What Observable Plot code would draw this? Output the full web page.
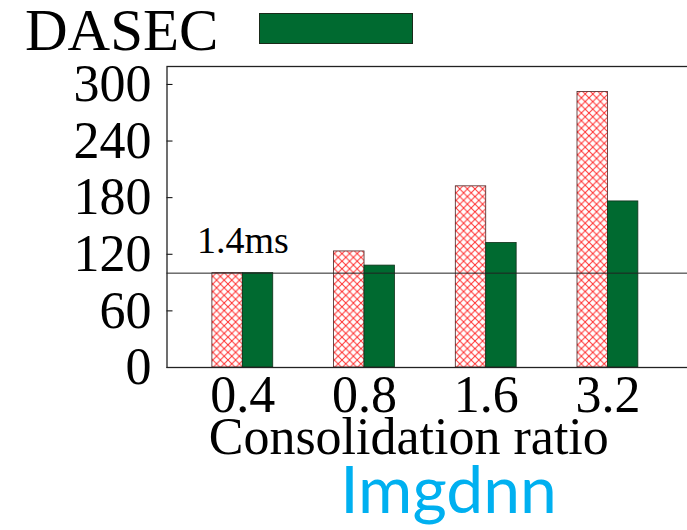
<!DOCTYPE html>
<html>
<head>
<meta charset="utf-8">
<script src="https://cdn.jsdelivr.net/npm/d3@7"></script>
<script src="https://cdn.jsdelivr.net/npm/@observablehq/plot@0.6"></script>
<style>
  html, body { margin: 0; padding: 0; background: #fff; overflow: hidden; width: 687px; height: 530px; }
  #legend { position: relative; height: 56px; width: 687px; }
  #legend .lab { position: absolute; left: 25px; top: 1px; font-family: 'Liberation Serif', serif; font-size: 59px; line-height: 59px; color: #000; }
  #legend .sw { position: absolute; left: 259px; top: 13px; width: 152px; height: 29px; border: 1px solid #1a2a1a; }
  #chart { width: 687px; height: 412px; overflow: hidden; }
  #chart svg { display: block; max-width: none !important; }
  #caption { margin-top: -13px; height: 75px; padding-left: 210px; text-align: center; font-family: Lato, sans-serif; font-size: 66px; line-height: 66px; color: #00b0f0; }
</style>
</head>
<body>
<div id="legend"></div>
<div id="chart"></div>
<div id="caption"></div>
<script>
// ---- data ----
const ratios = ["0.4", "0.8", "1.6", "3.2"];
const baselineLatency = [100, 123, 192, 292];   // hatched bars
const dasecLatency = [100, 108, 132, 176];      // green bars
const seriesNames = ["Baseline", "DASEC"];
const yTicks = [0, 60, 120, 180, 240, 300];
const refValue = 100;
const refLabel = "1.4ms";
const xLabel = "Consolidation ratio";
const captionText = "Imgdnn";

// ---- legend & caption ----
const green = "#006a30";
const legend = d3.select("#legend");
legend.append("span").attr("class", "lab").text(seriesNames[1]);
legend.append("div").attr("class", "sw").style("background", green);
d3.select("#caption").text(captionText);

// ---- rows ----
const half = 0.25;
const rowsBase = ratios.map((r, i) => ({i, ratio: r, value: baselineLatency[i]}));
const rowsDasec = ratios.map((r, i) => ({i, ratio: r, value: dasecLatency[i]}));

const chart = Plot.plot({
  width: 692,
  height: 412,
  marginTop: 10,
  marginBottom: 101,
  marginLeft: 166.5,
  marginRight: 4,
  style: {fontFamily: "'Liberation Serif', serif", fontSize: "52px", color: "#000", background: "transparent", overflow: "visible"},
  x: {type: "linear", domain: [-0.623, 3.662], ticks: ratios.map((d, i) => i), tickFormat: i => ratios[i], tickSize: 0, tickPadding: 8, label: null},
  y: {domain: [0, 319], ticks: yTicks, tickSize: -6, tickPadding: 21.5, label: null},
  marks: [
    Plot.rect(rowsBase, {x1: d => d.i - half, x2: d => d.i, y1: () => 0, y2: "value", fill: "url(#hatch)", stroke: "#4a2020", strokeWidth: 0.8}),
    Plot.rect(rowsDasec, {x1: d => d.i, x2: d => d.i + half, y1: () => 0, y2: "value", fill: green, stroke: "#10301a", strokeWidth: 0.8}),
    Plot.ruleY([refValue], {stroke: "#222", strokeWidth: 1}),
    Plot.text([refLabel], {x: () => 0, y: () => refValue, text: d => d, dy: -20, lineAnchor: "bottom", fontSize: 38, fill: "#000"}),
    Plot.frame({stroke: "#222", strokeWidth: 1.3}),
    Plot.text([xLabel], {frameAnchor: "bottom", text: d => d, dx: -19, dy: 86, lineAnchor: "bottom", fontSize: 52, fill: "#000"})
  ]
});

// hatch pattern
const svg = d3.select(chart);
const defs = svg.insert("defs", ":first-child");
const s = 7.6;
const pat = defs.append("pattern").attr("id", "hatch").attr("patternUnits", "userSpaceOnUse")
  .attr("width", s).attr("height", s);
pat.append("rect").attr("width", s).attr("height", s).attr("fill", "#fff");
pat.append("path").attr("d", `M0,0L${s},${s}M0,${s}L${s},0`).attr("stroke", "#ff3030").attr("stroke-width", 1).attr("fill", "none");

document.getElementById("chart").appendChild(chart);
</script>
</body>
</html>
